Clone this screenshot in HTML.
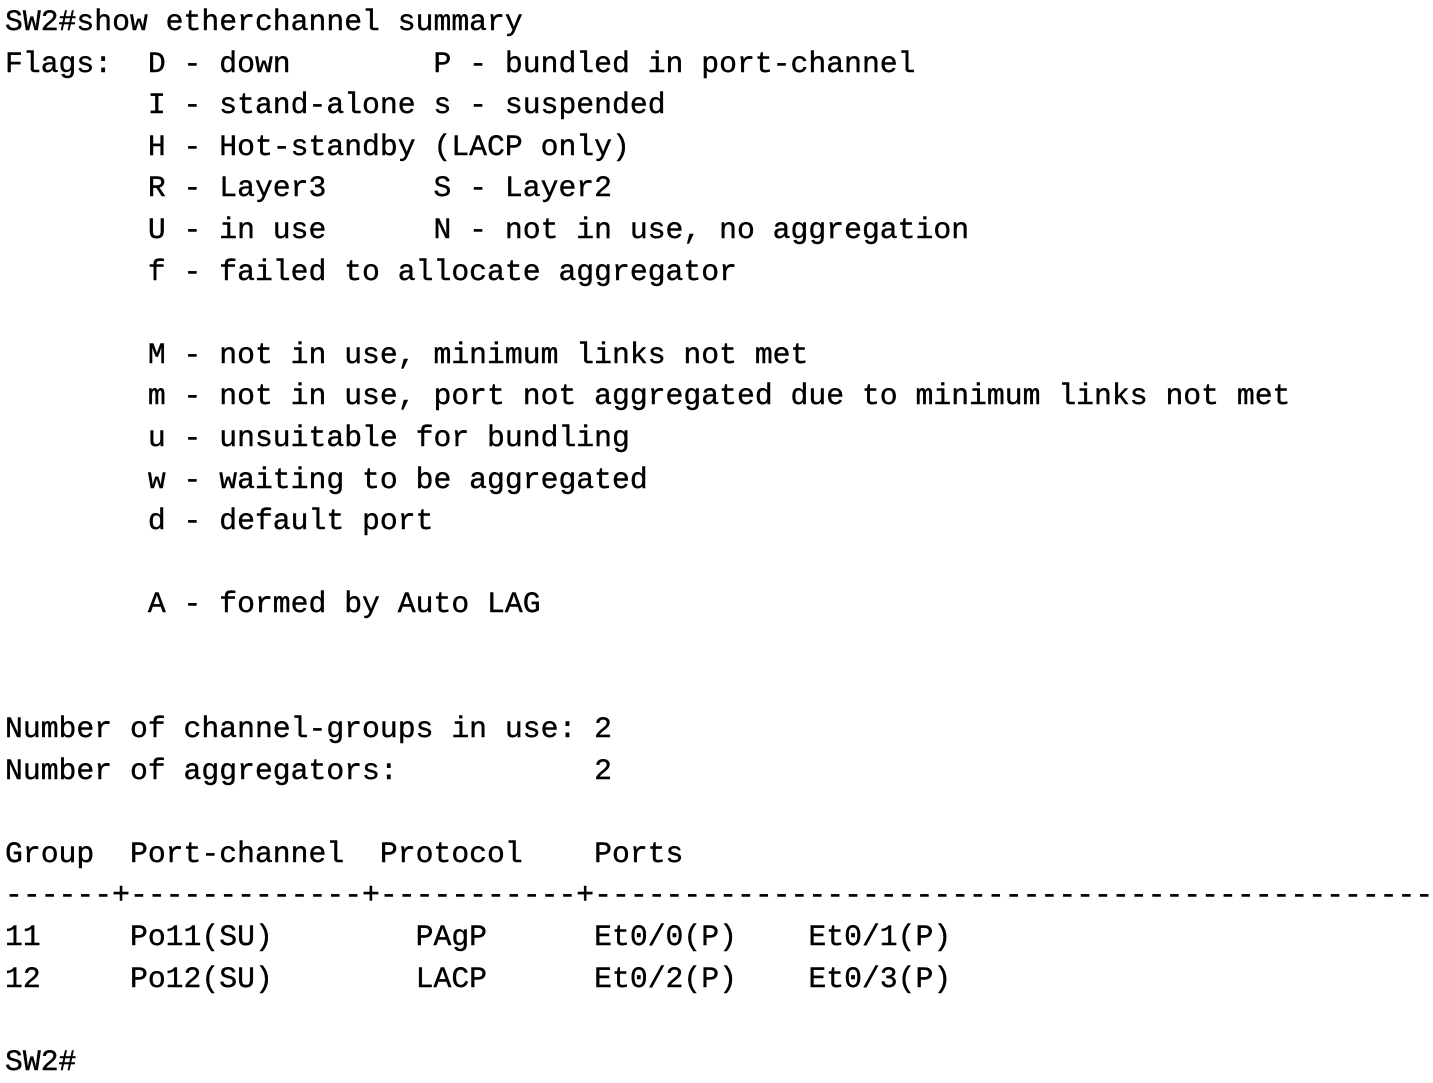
<!DOCTYPE html>
<html><head><meta charset="utf-8"><style>
html,body{margin:0;padding:0;background:#fff;width:1433px;height:1080px;overflow:hidden}
pre{margin:0;position:absolute;left:5px;top:2px;font-family:"Liberation Mono",monospace;font-size:29.75px;line-height:41.6px;color:#000;white-space:pre;-webkit-text-stroke:0.4px #000}
</style></head><body><pre>SW2#show etherchannel summary
Flags:  D - down        P - bundled in port-channel
        I - stand-alone s - suspended
        H - Hot-standby (LACP only)
        R - Layer3      S - Layer2
        U - in use      N - not in use, no aggregation
        f - failed to allocate aggregator

        M - not in use, minimum links not met
        m - not in use, port not aggregated due to minimum links not met
        u - unsuitable for bundling
        w - waiting to be aggregated
        d - default port

        A - formed by Auto LAG


Number of channel-groups in use: 2
Number of aggregators:           2

Group  Port-channel  Protocol    Ports
------+-------------+-----------+-----------------------------------------------
11     Po11(SU)        PAgP      Et0/0(P)    Et0/1(P)
12     Po12(SU)        LACP      Et0/2(P)    Et0/3(P)

SW2#</pre></body></html>
